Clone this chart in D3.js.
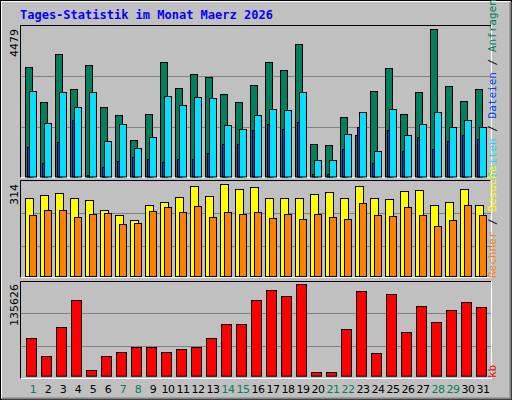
<!DOCTYPE html>
<html><head><meta charset="utf-8">
<script src="https://cdn.jsdelivr.net/npm/d3@7"></script>
<style>body{margin:0;background:#fff}svg{display:block}</style>
</head><body>
<script>
// Tages-Statistik, Werte
var days = d3.range(1, 32);
var weekend = [1, 7, 8, 14, 15, 21, 22, 28, 29];
var hits  = [3323,2259,3718,2654,3384,2107,1864,1104,1894,3475,2684,3110,3019,2502,2259,2776,3475,3231,4022,983,952,1803,1256,2593,3292,1894,2563,4479,2745,2289,2654];
var files = [2593,1621,2563,2107,2563,1074,1590,861,1195,2441,2168,2411,2381,1560,1438,1864,2046,2016,2563,496,496,1287,1955,770,2046,1256,1590,1955,1499,1712,1499];
var pages = [891,405,1043,1712,41,284,466,588,527,436,527,527,709,983,983,1408,1590,1438,1651,71,71,831,1499,405,1408,770,1195,831,1074,1256,1135];
var visits = [266,276,283,266,259,225,208,191,242,252,269,307,273,314,297,304,266,266,266,280,287,266,307,266,263,290,293,242,252,297,242];
var sites  = [208,225,225,201,211,215,177,180,222,235,218,239,201,218,211,218,198,211,194,211,201,194,249,208,204,235,208,170,191,242,208];
var kbytes = [55440,28710,71775,111870,7920,28710,34650,42075,42075,34650,39105,42075,55440,76230,76230,111870,126720,117810,135626,4950,4950,68805,125235,33165,120780,64350,102960,79200,97020,108900,101475];

var svg = d3.select("body").append("svg").attr("width", 512).attr("height", 400);
svg.append("rect").attr("x",0.5).attr("y",0.5).attr("width",511).attr("height",399).attr("fill","#c0c0c0").attr("stroke","#000");
svg.append("path").attr("d","M510.5,2V398.5H2").attr("fill","none").attr("stroke","#808080").attr("stroke-width",2);
svg.append("path").attr("d","M1.5,398V1.5H510").attr("fill","none").attr("stroke","#fff");

svg.append("text").attr("x",20).attr("y",19).text("Tages-Statistik im Monat Maerz 2026")
  .attr("fill","#0000ff").attr("font-family","DejaVu Sans Mono").attr("font-weight","bold").attr("font-size",12);

var x = d3.scaleLinear().domain([1, 31]).range([25, 475]);

function panel(y0, y1) {
  svg.append("path").attr("d","M20.5,"+y1+"V"+(y0+0.5)+"H491").attr("fill","none").attr("stroke","#000");
  svg.append("path").attr("d","M20.5,"+(y1-0.5)+"H491.5V"+y0).attr("fill","none").attr("stroke","#fff");
}
function grid(ys) {
  ys.forEach(function (g) {
    svg.append("line").attr("x1",21).attr("x2",491).attr("y1",g+0.5).attr("y2",g+0.5).attr("stroke","#808080");
  });
}
function bars(vals, y, dx, w, fill) {
  svg.append("g").selectAll("rect").data(vals).enter().append("rect")
    .attr("x", function (d, i) { return x(days[i]) + dx + 0.5; })
    .attr("y", function (d) { return Math.round(y(d)) + 0.5; })
    .attr("width", w)
    .attr("height", function (d) { return Math.max(0, y(0) - Math.round(y(d))); })
    .attr("fill", fill).attr("stroke", "#000");
}
function leftLabel(txt, yTop) {
  svg.append("text").attr("transform","translate(18,"+yTop+") rotate(-90)").attr("text-anchor","end")
    .attr("font-family","DejaVu Sans").attr("font-size",11).attr("fill","#000").text(txt);
}
function rightLabel(parts, yBottom) {
  var t = svg.append("text").attr("transform","translate(496,"+yBottom+") rotate(-90)")
    .attr("font-family","DejaVu Sans Mono").attr("font-size",11);
  parts.forEach(function (p) { t.append("tspan").attr("fill", p[1]).text(p[0]); });
}

// oben: Anfragen / Dateien / Seiten
panel(25, 178);
grid([76, 127]);
var y1 = d3.scaleLinear().domain([0, d3.max(hits)]).range([176.5, 29]);
bars(hits, y1, 0, 7, "#00805c");
bars(files, y1, 4, 7, "#00e0ff");
bars(pages, y1, 2, 2, "#0040ff");
leftLabel("4479", 29);
rightLabel([["Seiten","#00e0ff"],[" / ","#000"],["Dateien","#0040ff"],[" / ","#000"],["Anfragen","#00805c"]], 178);

// Mitte: Besuche / Rechner
panel(180, 278);
grid([213, 246]);
var y2 = d3.scaleLinear().domain([0, d3.max(visits)]).range([276, 184.3]);
bars(visits, y2, 0, 8, "#ffff00");
bars(sites, y2, 4, 7, "#ff8000");
leftLabel("314", 184);
rightLabel([["Rechner","#ff8000"],[" / ","#000"],["Besuche","#ffff00"]], 278);

// unten: kb
panel(281, 379);
grid([313, 346]);
var y3 = d3.scaleLinear().domain([0, d3.max(kbytes)]).range([375.7, 284.3]);
bars(kbytes, y3, 1, 10, "#ff0000");
leftLabel("135626", 284);
rightLabel([["kb","#ff0000"]], 378);

svg.append("g").selectAll("text").data(days).enter().append("text")
  .attr("x", function (d) { return x(d) + 8; }).attr("y", 393).attr("text-anchor","middle")
  .attr("font-family","DejaVu Sans").attr("font-size",11).attr("letter-spacing",-0.5)
  .attr("fill", function (d) { return weekend.indexOf(d) >= 0 ? "#00805c" : "#000"; })
  .text(function (d) { return d; });
</script>
</body></html>
